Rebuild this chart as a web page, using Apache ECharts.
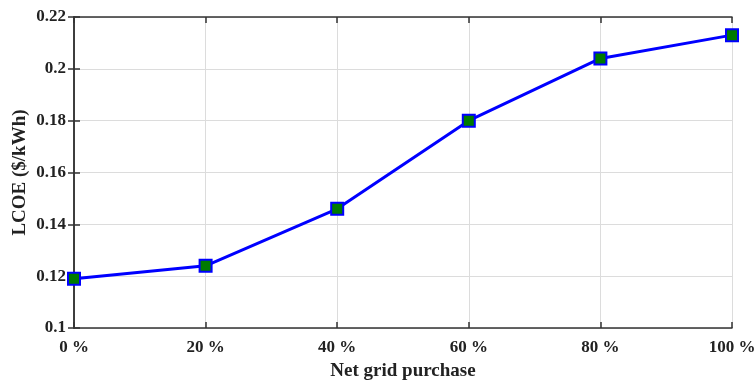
<!DOCTYPE html>
<html>
<head>
<meta charset="utf-8">
<script src="https://cdn.jsdelivr.net/npm/echarts@6/dist/echarts.min.js"></script>
<style>html,body{margin:0;padding:0;background:#fff}#c{width:754px;height:382px}</style>
</head>
<body>
<div id="c"></div>
<script>
// Net grid purchase share (%) and resulting LCOE ($/kWh)
const gridPurchase = [0, 20, 40, 60, 80, 100];
const lcoe = [0.119, 0.124, 0.146, 0.180, 0.204, 0.213];
const yTicks = [0.1, 0.12, 0.14, 0.16, 0.18, 0.2, 0.22];

const font = '"Liberation Serif", "Times New Roman", serif';
const axisLineStyle = { color: '#333', width: 1.5 };

const chart = echarts.init(document.getElementById('c'), null, { renderer: 'canvas' });
chart.setOption({
  animation: false,
  grid: { left: 74, right: 22, top: 17, bottom: 54, outerBoundsMode: 'none', containLabel: false },
  xAxis: [{
    type: 'value', min: 0, max: 100, interval: 20,
    name: 'Net grid purchase', nameLocation: 'middle', nameGap: 34,
    nameTextStyle: { fontFamily: font, fontWeight: 'bold', fontSize: 19, color: '#222' },
    axisLine: { lineStyle: axisLineStyle },
    axisTick: { inside: true, length: 6, lineStyle: axisLineStyle },
    axisLabel: { fontFamily: font, fontWeight: 'bold', fontSize: 17, color: '#222', margin: 11,
      formatter: v => v + ' %' },
    splitLine: { show: true, lineStyle: { color: '#dcdcdc', width: 1 } }
  }, {
    type: 'value', min: 0, max: 100, interval: 20, position: 'top',
    axisLine: { show: true, lineStyle: axisLineStyle },
    axisTick: { inside: true, length: 6, lineStyle: axisLineStyle },
    axisLabel: { show: false }, splitLine: { show: false }
  }],
  yAxis: [{
    type: 'value', min: yTicks[0], max: yTicks[yTicks.length - 1], interval: 0.02,
    name: 'LCOE ($/kWh)', nameLocation: 'middle', nameGap: 44, nameMoveOverlap: false,
    nameTextStyle: { fontFamily: font, fontWeight: 'bold', fontSize: 19, color: '#222' },
    axisLine: { show: true, lineStyle: axisLineStyle },
    axisTick: { inside: true, length: 6, lineStyle: axisLineStyle },
    axisLabel: { fontFamily: font, fontWeight: 'bold', fontSize: 17, color: '#222', margin: 8,
      formatter: v => String(parseFloat(v.toFixed(2))) },
    splitLine: { show: true, lineStyle: { color: '#dcdcdc', width: 1 } }
  }, {
    type: 'value', min: yTicks[0], max: yTicks[yTicks.length - 1], interval: 0.02, position: 'right',
    axisLine: { show: true, lineStyle: axisLineStyle },
    axisTick: { inside: true, length: 6, lineStyle: axisLineStyle },
    axisLabel: { show: false }, splitLine: { show: false }
  }],
  series: [{
    type: 'line',
    data: gridPurchase.map((x, i) => [x, lcoe[i]]),
    symbol: 'rect', symbolSize: 12,
    lineStyle: { color: '#0000ff', width: 3 },
    itemStyle: { color: '#007a00', borderColor: '#0000ff', borderWidth: 2 },
    clip: false
  }]
});
</script>
</body>
</html>
